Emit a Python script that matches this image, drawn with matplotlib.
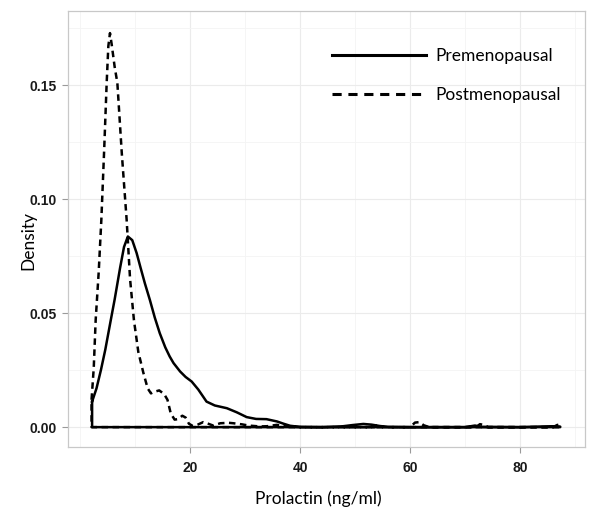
import matplotlib
matplotlib.use("Agg")
import matplotlib.pyplot as plt
from matplotlib.lines import Line2D
from matplotlib.ticker import MultipleLocator

# density outline (x in ng/ml, y density)
pre_x = [2.2, 3.0, 3.8, 4.6, 5.6, 6.3, 6.8, 7.3, 8.0, 8.7, 9.5, 10.3, 11.0,
         11.8, 12.7, 13.6, 14.5, 15.5, 16.3, 17.0, 18.2, 19.2, 20.3, 21.5,
         23.0, 24.5, 26.7, 28.5, 30.3, 32.0, 33.9, 35.8, 37.0, 38.2, 40.0,
         44.0, 47.5, 49.5, 51.5, 53.0, 54.5, 56.0, 60.0, 70.0, 71.8, 73.0,
         80.0, 86.5, 87.3]
pre_y = [0.0112, 0.017, 0.025, 0.034, 0.047, 0.056, 0.063, 0.070, 0.079,
         0.0836, 0.082, 0.0763, 0.070, 0.063, 0.0558, 0.048, 0.0412, 0.035,
         0.031, 0.0281, 0.0244, 0.022, 0.0200, 0.0165, 0.0112, 0.0095, 0.0083,
         0.0065, 0.0044, 0.0036, 0.0035, 0.0025, 0.0015, 0.0006, 0.0001, 0.0,
         0.0003, 0.0009, 0.0014, 0.0011, 0.0005, 0.0001, 0.0, 0.0, 0.0007,
         0.0001, 0.0, 0.0004, 0.0002]

post_x = [2.1, 2.5, 2.85, 3.4, 3.88, 4.4, 4.85, 5.15, 5.45, 5.75, 6.3, 6.79,
          7.6, 8.48, 9.1, 9.8, 10.6, 11.5, 12.3, 12.9, 13.5, 14.4, 15.3, 15.9,
          16.5, 17.2, 17.8, 18.6, 19.2, 19.8, 20.5, 21.5, 22.4, 23.3, 24.2,
          25.5, 27.0, 27.9, 29.5, 30.6, 32.7, 34.0, 35.8, 37.5, 40.0, 53.5,
          54.2, 55.0, 60.0, 60.9, 61.7, 62.5, 63.5, 72.0, 72.7, 73.5, 74.2,
          86.0, 86.8, 87.3]
post_y = [0.012, 0.026, 0.047, 0.068, 0.0909, 0.122, 0.151, 0.167, 0.1728,
          0.168, 0.158, 0.151, 0.12, 0.0909, 0.065, 0.047, 0.033, 0.024, 0.017,
          0.0148, 0.0155, 0.0161, 0.0145, 0.012, 0.006, 0.0033, 0.0035, 0.005,
          0.0042, 0.0015, 0.0005, 0.0012, 0.0022, 0.0015, 0.0007, 0.0017,
          0.0019, 0.0017, 0.0012, 0.0007, 0.0003, 0.0004, 0.001, 0.0003, 0.0,
          0.0, 0.0012, 0.0, 0.0, 0.002, 0.0022, 0.0008, 0.0, 0.0, 0.0013,
          0.0009, 0.0, 0.0, 0.001, 0.0003]

labels = ["Premenopausal", "Postmenopausal"]
x_ticks = [20, 40, 60, 80]
y_ticks = [0.0, 0.05, 0.10, 0.15]

title_font = "Lato"
tick_font = "Liberation Sans"


def closed(xs, ys):
    # geom_density style outline: curve, drop to baseline, back to start
    return xs + [xs[-1], xs[0], xs[0]], ys + [0.0, 0.0, ys[0]]


fig = plt.figure(figsize=(6.0, 5.13), dpi=100)
ax = fig.add_axes([0.1127, 0.1287, 0.8623, 0.8499])

px, py = closed(post_x, post_y)
ax.plot(px, py, color="black", lw=1.8, dashes=(2.6, 1.8))
sx, sy = closed(pre_x, pre_y)
ax.plot(sx, sy, color="black", lw=1.8)

ax.set_xlim(-2.25, 91.8)
ax.set_ylim(-0.0087, 0.1825)

ax.xaxis.set_minor_locator(MultipleLocator(10))
ax.yaxis.set_minor_locator(MultipleLocator(0.025))
tick_kw = dict(fontfamily=tick_font, fontweight="bold", fontsize=10, color="#1a1a1a")
ax.set_xticks(x_ticks)
ax.set_xticklabels([str(v) for v in x_ticks], **tick_kw)
ax.set_yticks(y_ticks)
ax.set_yticklabels(["%.2f" % v for v in y_ticks], **tick_kw)

ax.grid(which="major", color="#ebebeb", lw=0.8)
ax.grid(which="minor", color="#f4f4f4", lw=0.6)
ax.set_axisbelow(True)
for s in ax.spines.values():
    s.set_color("#c8c8c8")
    s.set_linewidth(0.9)

ax.tick_params(which="major", length=4, width=0.8, color="#9a9a9a", pad=3.5)
ax.tick_params(axis="x", which="major", pad=6)
ax.tick_params(which="minor", length=0)

ax.set_xlabel("Prolactin (ng/ml)", fontfamily=title_font, fontsize=12.5, labelpad=11)
ax.set_ylabel("Density", fontfamily=title_font, fontsize=12.5)
ax.yaxis.set_label_coords(-0.06, 0.4725)
ax.xaxis.set_label_coords(0.484, -0.1)

handles = [Line2D([], [], color="black", lw=2.2),
           Line2D([], [], color="black", lw=2.2, dashes=(3.0, 2.2))]
ax.legend(handles, labels, loc="upper left", bbox_to_anchor=(0.511, 0.915),
          frameon=False, borderpad=0, borderaxespad=0, handlelength=5.4,
          handletextpad=0.55, labelspacing=1.3,
          prop={"family": title_font, "size": 12.5})

fig.savefig("out.png", dpi=100)
